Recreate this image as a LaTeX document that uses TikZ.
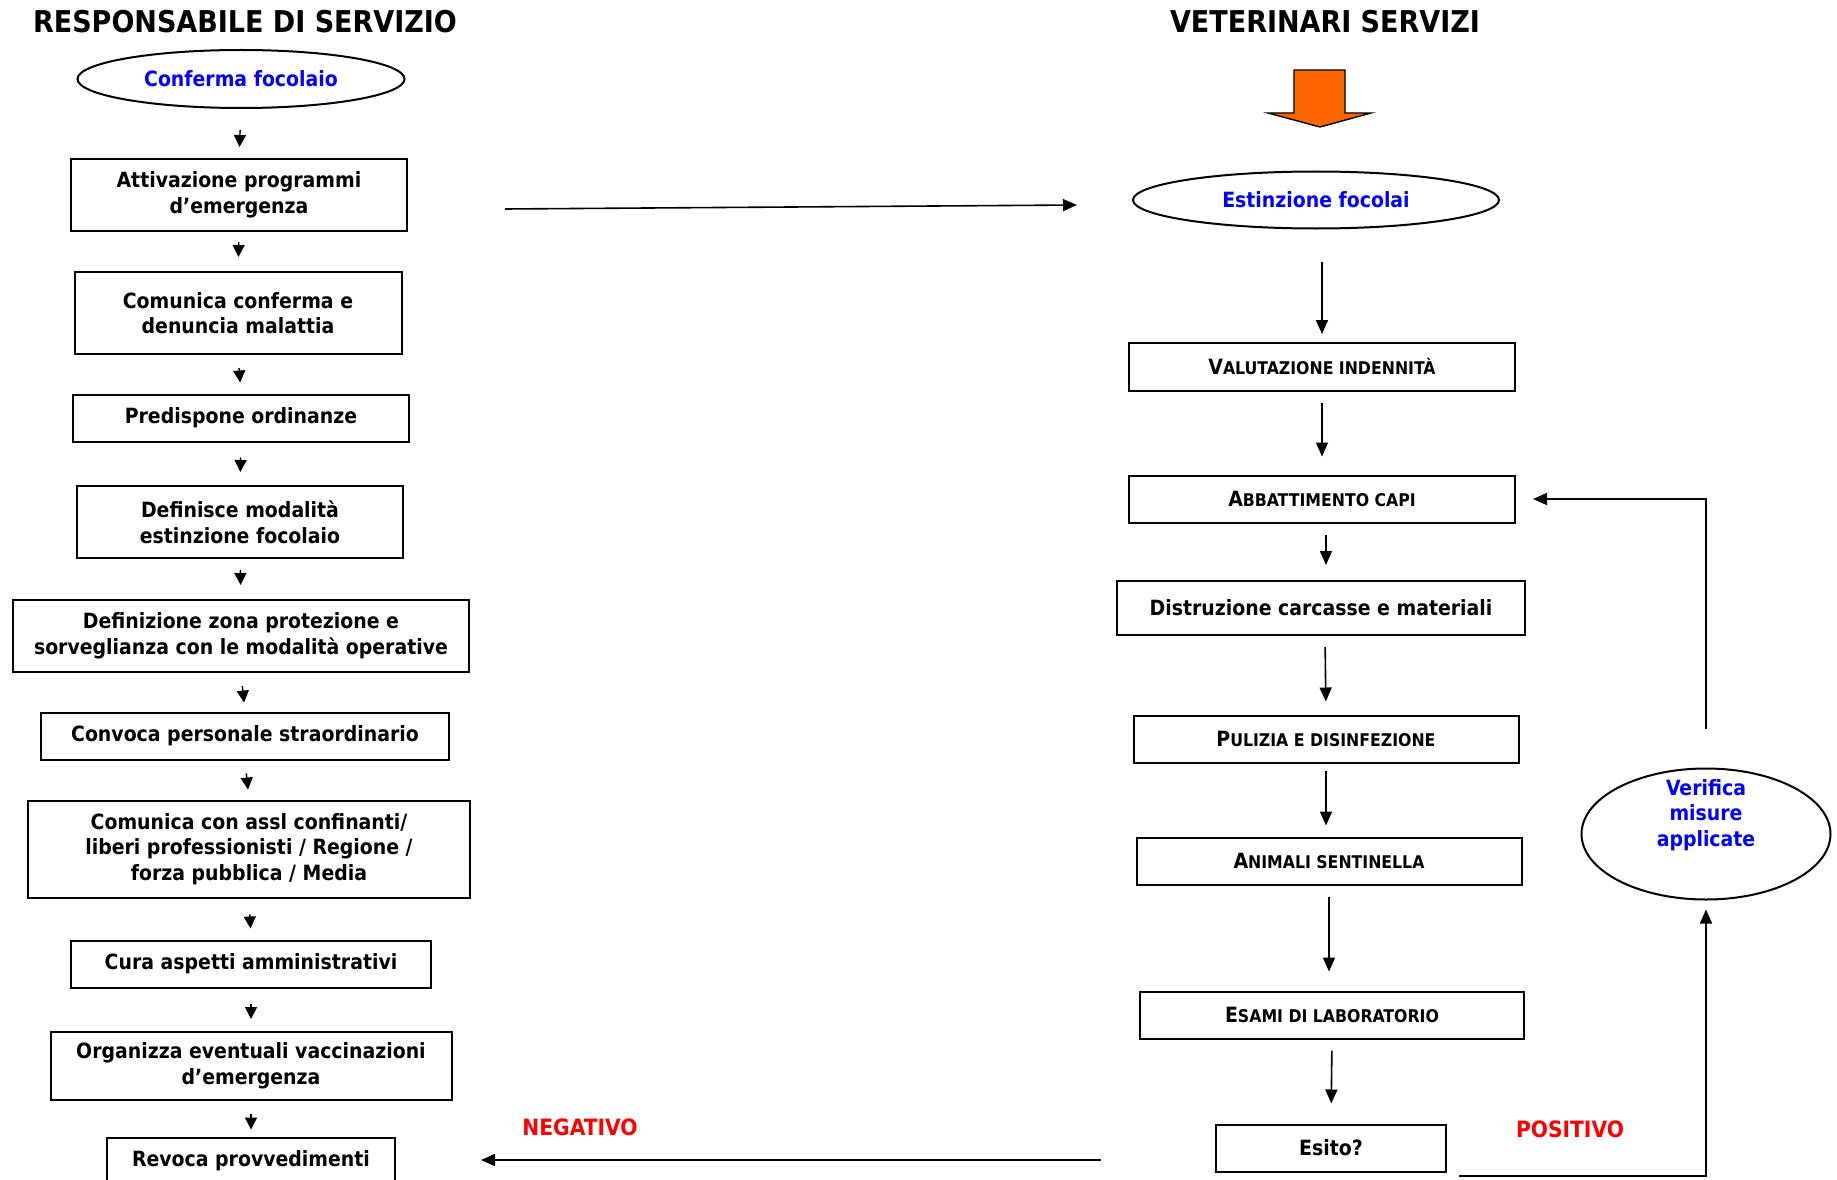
\documentclass[tikz,border=0pt]{standalone}
\usepackage{fontspec}
\setmainfont{DejaVu Sans Condensed}
\usetikzlibrary{arrows.meta,calc,shapes.geometric}
\definecolor{tblue}{RGB}{0,0,255}
\definecolor{tred}{RGB}{255,0,0}
\definecolor{torange}{RGB}{255,102,0}
\newcommand\scx[1]{{\fontsize{17.5}{20}\selectfont #1}}
\begin{document}
\begin{tikzpicture}[x=1pt,y=-1pt,
  every node/.style={font=\bfseries\fontsize{21}{25.5}\selectfont},
  box/.style={draw, line width=2pt, align=center, inner sep=0pt},
  oval/.style={draw, ellipse, line width=2pt, align=center, inner sep=0pt, text=tblue},
  arr/.style={line width=1.6pt, -{Triangle[length=14pt,width=12pt]}},
  sarr/.style={line width=1.4pt, -{Triangle[length=12pt,width=12pt]}},
  sa/.style 2 args={shorten <=#1pt, shorten >=#2pt},
  ttl/.style={font=\bfseries\fontsize{30}{34}\selectfont},
  lbl/.style={text=tred, font=\bfseries\fontsize{22.5}{26}\selectfont}]
\useasboundingbox (0,0) rectangle (1837,1180);
\begin{scope}
\clip (0,0) rectangle (1837,1180);
% titles
\node[ttl] (t1) at (245,22) {RESPONSABILE DI SERVIZIO};
\node[ttl] (t2) at (1325,22) {VETERINARI SERVIZI};
% left column
\node[oval, minimum width=327pt, minimum height=58pt] (conf) at (241,79) {Conferma focolaio};
\node[box, minimum width=336pt, minimum height=72pt] (attiv) at (239,195) {Attivazione programmi\\d’emergenza};
\node[box, minimum width=327pt, minimum height=82pt] (com1) at (238,313) {Comunica conferma e\\denuncia malattia};
\node[box, minimum width=336pt, minimum height=47pt] (pred) at (241,418) {Predispone ordinanze};
\node[box, minimum width=326pt, minimum height=72pt] (def) at (240,522) {Definisce modalità\\estinzione focolaio};
\node[box, minimum width=456pt, minimum height=72pt] (defz) at (241,636) {Definizione zona protezione e\\sorveglianza con le modalità operative};
\node[box, minimum width=408pt, minimum height=47pt] (conv) at (245,736) {Convoca personale straordinario};
\node[box, minimum width=442pt, minimum height=97pt] (com2) at (249,849) {Comunica con assl confinanti/\\liberi professionisti / Regione /\\forza pubblica / Media};
\node[box, minimum width=360pt, minimum height=47pt] (cura) at (251,964) {Cura aspetti amministrativi};
\node[box, minimum width=401pt, minimum height=68pt] (org) at (251,1066) {Organizza eventuali vaccinazioni\\d’emergenza};
\node[box, minimum width=288pt, minimum height=47pt] (rev) at (251,1161) {Revoca provvedimenti};
% left arrows
\draw[sarr, sa={21}{11}] (conf.south) -- (attiv.north);
\draw[sarr, sa={10}{14}] (attiv.south) -- (com1.north);
\draw[sarr, sa={13}{11}] (com1.south) -- (pred.north);
\draw[sarr, sa={15}{13}] (pred.south) -- (def.north);
\draw[sarr, sa={11}{14}] (def.south) -- (defz.north);
\draw[sarr, sa={13}{9}] (defz.south) -- (conv.north);
\draw[sarr, sa={13}{10}] (conv.south) -- (com2.north);
\draw[sarr, sa={16}{11}] (com2.south) -- (cura.north);
\draw[sarr, sa={15}{12}] (cura.south) -- (org.north);
\draw[sarr, sa={13}{7}] (org.south) -- (rev.north);
% orange block arrow
\draw[line width=1.4pt, fill=torange, line join=miter]
  (1294,70) -- (1345,70) -- (1345,113) -- (1371,113) -- (1320,127) -- (1268,113) -- (1294,113) -- cycle;
% right column
\node[oval, minimum width=366pt, minimum height=57pt] (est) at (1316,200) {Estinzione focolai};
\node[box, minimum width=386pt, minimum height=48pt] (val) at (1322,367) {V\scx{ALUTAZIONE INDENNITÀ}};
\node[box, minimum width=386pt, minimum height=47pt] (abb) at (1322,499) {A\scx{BBATTIMENTO CAPI}};
\node[box, minimum width=408pt, minimum height=54pt] (dis) at (1321,608) {Distruzione carcasse e materiali};
\node[box, minimum width=385pt, minimum height=47pt] (pul) at (1326,739) {P\scx{ULIZIA E DISINFEZIONE}};
\node[box, minimum width=385pt, minimum height=47pt] (ani) at (1329,861) {A\scx{NIMALI SENTINELLA}};
\node[box, minimum width=384pt, minimum height=47pt] (esa) at (1332,1015) {E\scx{SAMI DI LABORATORIO}};
\node[box, minimum width=230pt, minimum height=47pt] (esi) at (1331,1148) {Esito?};
\node[oval, minimum width=249pt, minimum height=131pt] (ver) at (1706,834) {};
\node[text=tblue, align=center] (vert) at (1706,815) {Verifica\\misure\\applicate};
% right arrows
\draw[arr] ($(attiv.east)+(97,14)$) -- ($(est.west)+(-55,5)$);
\draw[arr, sa={32}{8}] (est.south -| val.north) -- (val.north);
\draw[arr, sa={11}{18}] (val.south) -- (abb.north);
\draw[arr, sa={11}{15}] ($(abb.south)+(4,0)$) -- ($(dis.north)+(5,0)$);
\draw[arr, sa={11}{13}] ($(dis.south)+(4,0)$) -- (pul.north);
\draw[arr, sa={7}{11}] (pul.south) -- (pul.south |- ani.north);
\draw[arr, sa={11}{19}] (ani.south) -- (ani.south |- esa.north);
\draw[arr, sa={11}{20}] (esa.south) -- (esi.north);
% feedback
\coordinate (p0) at (1459,1176);
\draw[arr, shorten >=9pt] (p0) -| (ver.south);
\draw[arr, sa={39}{17}] (ver.north) |- (abb.east);
\coordinate (n0) at (1101,1160);
\draw[arr, shorten >=85pt] (n0) -- (rev.east |- n0);
\node[lbl] (neg) at (580,1127) {NEGATIVO};
\node[lbl] (pos) at (1570,1129) {POSITIVO};
\end{scope}
\end{tikzpicture}
\end{document}
